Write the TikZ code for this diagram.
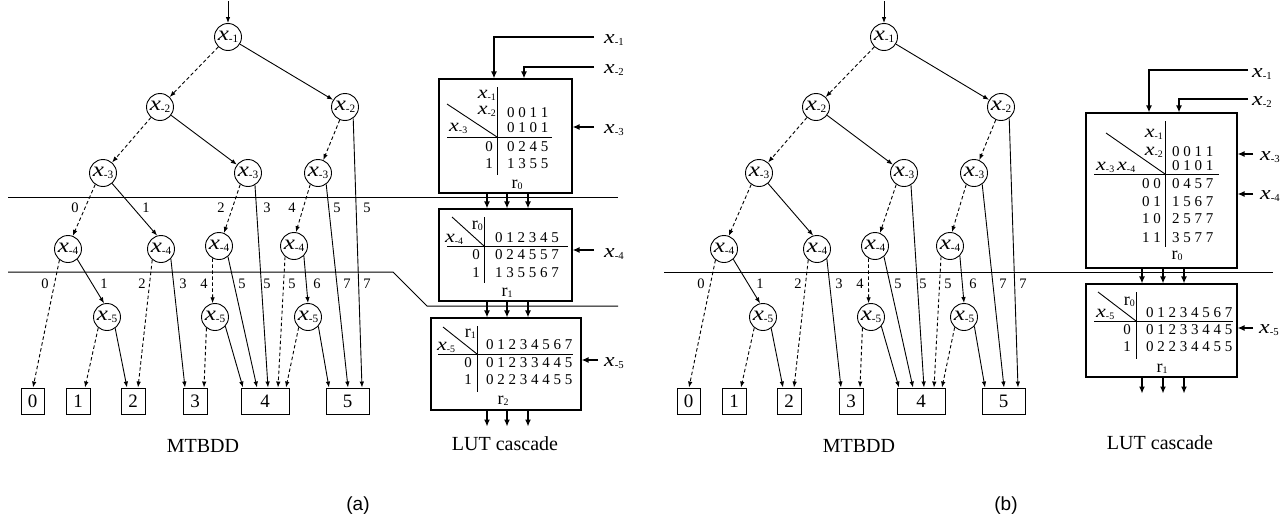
\documentclass[tikz,border=0pt]{standalone}
\usepackage{fontspec}
\setmainfont{Liberation Serif}
\setsansfont{Liberation Sans}
\usepackage{graphicx}
\usetikzlibrary{arrows.meta,calc}
\newcommand\xv[1]{\scalebox{1.22}[1]{\textit{x}}\raisebox{-0.12em}{\scalebox{0.55}{-#1}}}
\newcommand\rv[1]{r\raisebox{-0.08em}{\scalebox{0.55}{#1}}}
\tikzset{
  vnode/.style={circle,draw,line width=0.9pt,minimum size=27pt,inner sep=0pt,font=\fontsize{20.5}{20.5}\selectfont},
  term/.style={rectangle,draw,line width=0.9pt,minimum height=26pt,inner sep=0pt,font=\fontsize{19}{19}\selectfont},
  eone/.style={line width=0.9pt,-{Latex[length=6pt,width=4.5pt]}},
  ezero/.style={eone,dash pattern=on 3.5pt off 2.5pt},
  elab/.style={inner sep=0pt,font=\fontsize{14.5}{14.5}\selectfont},
  lutbox/.style={rectangle,draw,line width=1.1pt,inner sep=0pt},
  tabtxt/.style={inner sep=0pt,font=\fontsize{15}{15}\selectfont},
  tabx/.style={inner sep=0pt,font=\fontsize{18}{18}\selectfont},
  tline/.style={line width=0.9pt},
  inp/.style={line width=1.8pt,-{Latex[length=7pt,width=6pt]}},
  flow/.style={line width=1.4pt,-{Latex[length=7pt,width=6pt]}},
  ilab/.style={inner sep=0pt,font=\fontsize{19.5}{19.5}\selectfont},
  sepline/.style={line width=1.0pt},
  captxt/.style={inner sep=0pt,font=\fontsize{20}{20}\selectfont},
  subcap/.style={inner sep=0pt,font=\sffamily\fontsize{19}{19}\selectfont}
}
\newcommand\mtbdd[1]{%
  \coordinate (#1in) at (228,1);
  \node[vnode] (#1x1) at (228,37) {\xv1};
  \node[vnode] (#1x2a) at (160,107) {\xv2};
  \node[vnode] (#1x2b) at (345,107) {\xv2};
  \node[vnode] (#1x3a) at (103,173) {\xv3};
  \node[vnode] (#1x3b) at (248,173) {\xv3};
  \node[vnode] (#1x3c) at (318,173) {\xv3};
  \node[vnode] (#1x4a) at (68,249) {\xv4};
  \node[vnode] (#1x4b) at (161,249) {\xv4};
  \node[vnode] (#1x4c) at (219,246) {\xv4};
  \node[vnode] (#1x4d) at (294,246) {\xv4};
  \node[vnode] (#1x5a) at (107,317) {\xv5};
  \node[vnode] (#1x5b) at (215,317) {\xv5};
  \node[vnode] (#1x5c) at (308,317) {\xv5};
  \node[term,minimum width=23pt] (#1t0) at (32.5,401) {0};
  \node[term,minimum width=24pt] (#1t1) at (78,401) {1};
  \node[term,minimum width=24pt] (#1t2) at (133,401) {2};
  \node[term,minimum width=24pt] (#1t3) at (195,401) {3};
  \node[term,minimum width=48pt] (#1t4) at (265,401) {4};
  \node[term,minimum width=43pt] (#1t5) at (347.5,401) {5};
  \draw[eone] (#1in) -- (#1x1);
  \draw[ezero] (#1x1) -- (#1x2a);
  \draw[eone] (#1x1) -- (#1x2b);
  \draw[ezero] (#1x2a) -- (#1x3a);
  \draw[eone] (#1x2a) -- (#1x3b);
  \draw[ezero] (#1x2b) -- (#1x3c);
  \draw[eone] (#1x2b.-54) -- ([xshift=14.5pt]#1t5.north);
  \draw[ezero] (#1x3a.-124) -- (#1x4a.70);
  \draw[eone] (#1x3a.-49) -- (#1x4b.106);
  \draw[ezero] (#1x3b.-124) -- (#1x4c.69);
  \draw[eone] (#1x3b.-60) -- ([xshift=3pt]#1t4.north);
  \draw[ezero] (#1x3c.-124) -- (#1x4d.82);
  \draw[eone] (#1x3c.-54) -- ([xshift=0.5pt]#1t5.north);
  \draw[ezero] (#1x4a.-128) -- ([xshift=0.5pt]#1t0.north);
  \draw[eone] (#1x4a.-48) -- (#1x5a.102);
  \draw[ezero] (#1x4b.-129) -- ([xshift=5pt]#1t2.north);
  \draw[eone] (#1x4b.-45) -- ([xshift=-10pt]#1t3.north);
  \draw[ezero] (#1x4c.-118) -- (#1x5b.100);
  \draw[eone] (#1x4c.-50) -- ([xshift=-8pt]#1t4.north);
  \draw[ezero] (#1x4d.-130) -- ([xshift=13pt]#1t4.north);
  \draw[eone] (#1x4d.-45) -- (#1x5c.90);
  \draw[ezero] (#1x5a.-129) -- ([xshift=7pt]#1t1.north);
  \draw[eone] (#1x5a.-54) -- ([xshift=-6pt]#1t2.north);
  \draw[ezero] (#1x5b.-128) -- ([xshift=9pt]#1t3.north);
  \draw[eone] (#1x5b.-42) -- ([xshift=-22pt]#1t4.north);
  \draw[ezero] (#1x5c.-132) -- ([xshift=21pt]#1t4.north);
  \draw[eone] (#1x5c.-42) -- ([xshift=-18.5pt]#1t5.north);
  \node[elab] (#1la) at (45,284) {0};
  \node[elab] (#1lb) at (104,284) {1};
  \node[elab] (#1lc) at (142,284) {2};
  \node[elab] (#1ld) at (183,284) {3};
  \node[elab] (#1le) at (204,284) {4};
  \node[elab] (#1lf) at (242,284) {5};
  \node[elab] (#1lg) at (267,284) {5};
  \node[elab] (#1lh) at (292,284) {5};
  \node[elab] (#1li) at (317,284) {6};
  \node[elab] (#1lj) at (347,284) {7};
  \node[elab] (#1lk) at (367,284) {7};
  \node[captxt] (#1cap) at (203,446) {MTBDD};
}
\begin{document}
\begin{tikzpicture}[x=1pt,y=-1pt]
\path[fill=white] (0,0) rectangle (1287,522);
\useasboundingbox (0,0) rectangle (1287,522);
% separator lines
\draw[sepline] (8,197) -- (618,197);
\draw[sepline] (8,272) -- (393,272) -- (427,306) -- (618,306);
\draw[sepline] (664,272) -- (1273,272);
% MTBDDs
\mtbdd{a}
\begin{scope}[xshift=656pt]
\mtbdd{b}
\end{scope}
% row 1 labels of (a)
\node[elab] (ru1) at (75,208) {0};
\node[elab] (ru2) at (146,208) {1};
\node[elab] (ru3) at (221,208) {2};
\node[elab] (ru4) at (267,208) {3};
\node[elab] (ru5) at (292,208) {4};
\node[elab] (ru6) at (337,208) {5};
\node[elab] (ru7) at (367,208) {5};
% ---------- LUT cascade (a)
\node[lutbox,minimum width=133pt,minimum height=114pt] (ar0) at (505.5,136) {};
\node[lutbox,minimum width=133pt,minimum height=92pt] (ar1) at (505.5,255) {};
\node[lutbox,minimum width=150pt,minimum height=92pt] (ar2) at (506,364) {};
% r0 table
\draw[tline] (497,87) -- (497,175);
\draw[tline] (447,137) -- (552,137);
\draw[tline] (447,104) -- (497,137);
\node[tabx,anchor=base east] (aa1) at (496,98) {\xv1};
\node[tabx,anchor=base east] (aa2) at (496,114.5) {\xv2};
\node[tabx,anchor=base west] (aa3) at (449,131) {\xv3};
\node[tabtxt,anchor=base west] (aa4) at (507,117) {0 0 1 1};
\node[tabtxt,anchor=base west] (aa5) at (507,132) {0 1 0 1};
\node[tabtxt,anchor=base east] (aa6) at (493,151) {0};
\node[tabtxt,anchor=base west] (aa7) at (507,151) {0 2 4 5};
\node[tabtxt,anchor=base east] (aa8) at (493,168) {1};
\node[tabtxt,anchor=base west] (aa9) at (507,168) {1 3 5 5};
\node[tabx,anchor=base] (aa10) at (517,188) {\rv0};
% r1 table
\draw[tline] (484,217) -- (484,283);
\draw[tline] (447,246) -- (568,246);
\draw[tline] (452,217) -- (484,246);
\node[tabx,anchor=base east] (ab1) at (483,229) {\rv0};
\node[tabx,anchor=base west] (ab2) at (445,242) {\xv4};
\node[tabtxt,anchor=base west] (ab3) at (495,242) {0 1 2 3 4 5};
\node[tabtxt,anchor=base east] (ab4) at (480,259) {0};
\node[tabtxt,anchor=base west] (ab5) at (495,259) {0 2 4 5 5 7};
\node[tabtxt,anchor=base east] (ab6) at (480,277) {1};
\node[tabtxt,anchor=base west] (ab7) at (495,277) {1 3 5 5 6 7};
\node[tabx,anchor=base] (ab8) at (507,296) {\rv1};
% r2 table
\draw[tline] (477,326) -- (477,392);
\draw[tline] (438,354) -- (573,354);
\draw[tline] (443,327) -- (477,354);
\node[tabx,anchor=base east] (ac1) at (476,337) {\rv1};
\node[tabx,anchor=base west] (ac2) at (437,350) {\xv5};
\node[tabtxt,anchor=base west] (ac3) at (486,349) {0 1 2 3 4 5 6 7};
\node[tabtxt,anchor=base east] (ac4) at (472,367) {0};
\node[tabtxt,anchor=base west] (ac5) at (486,367) {0 1 2 3 3 4 4 5};
\node[tabtxt,anchor=base east] (ac6) at (472,384) {1};
\node[tabtxt,anchor=base west] (ac7) at (486,384) {0 2 2 3 4 4 5 5};
\node[tabx,anchor=base] (ac8) at (503,404) {\rv2};
% inputs (a)
\coordinate (ai1) at (594,37);
\coordinate (ai2) at (594,67);
\coordinate (ai3) at (594,127);
\coordinate (ai4) at (594,250);
\coordinate (ai5) at (598,360);
\draw[inp] (ai1) -| ([xshift=-11.5pt]ar0.north);
\draw[inp] (ai2) -| ([xshift=18.5pt]ar0.north);
\draw[inp] (ai3) -- (ar0.east |- ai3);
\draw[inp] (ai4) -- (ar1.east |- ai4);
\draw[inp] (ai5) -- (ar2.east |- ai5);
\node[ilab,anchor=base west] (al1) at (604,43) {\xv1};
\node[ilab,anchor=base west] (al2) at (604,73) {\xv2};
\node[ilab,anchor=base west] (al3) at (604,133) {\xv3};
\node[ilab,anchor=base west] (al4) at (604,257) {\xv4};
\node[ilab,anchor=base west] (al5) at (604,366) {\xv5};
% flows (a)
\foreach \d in {-18.5,1.5,22.5}{
  \draw[flow] ([xshift=\d pt]ar0.south) -- ([xshift=\d pt]ar1.north);
  \draw[flow] ([xshift=\d pt]ar1.south) -- ([xshift=\d pt]ar1.south |- ar2.north);
  \draw[flow] ([xshift=\d pt]ar1.south |- ar2.south) -- ([xshift=\d pt,yshift=-16pt]ar1.south |- ar2.south);
}
\node[captxt] (acap) at (505,444) {LUT cascade};
\node[subcap] (asub) at (358,506) {(a)};
% ---------- LUT cascade (b)
\node[lutbox,minimum width=151pt,minimum height=155pt] (br0) at (1161.5,190.5) {};
\node[lutbox,minimum width=151pt,minimum height=93pt] (br1) at (1161.5,330.5) {};
\draw[tline] (1165,121) -- (1165,247);
\draw[tline] (1094,174) -- (1219,174);
\draw[tline] (1106,133) -- (1165,174);
\node[tabx,anchor=base east] (ba1) at (1163,137) {\xv1};
\node[tabx,anchor=base east] (ba2) at (1163,155) {\xv2};
\node[tabx,anchor=base west] (ba3) at (1096,170) {\xv3\,\xv4};
\node[tabtxt,anchor=base west] (ba4) at (1172,156) {0 0 1 1};
\node[tabtxt,anchor=base west] (ba5) at (1172,170) {0 1 0 1};
\node[tabtxt,anchor=base east] (ba6) at (1161,188) {0 0};
\node[tabtxt,anchor=base west] (ba7) at (1172,188) {0 4 5 7};
\node[tabtxt,anchor=base east] (ba8) at (1161,206) {0 1};
\node[tabtxt,anchor=base west] (ba9) at (1172,206) {1 5 6 7};
\node[tabtxt,anchor=base east] (ba10) at (1161,223) {1 0};
\node[tabtxt,anchor=base west] (ba11) at (1172,223) {2 5 7 7};
\node[tabtxt,anchor=base east] (ba12) at (1161,242) {1 1};
\node[tabtxt,anchor=base west] (ba13) at (1172,242) {3 5 7 7};
\node[tabx,anchor=base] (ba14) at (1177,259) {\rv0};
\draw[tline] (1136,292) -- (1136,359);
\draw[tline] (1094,321) -- (1233,321);
\draw[tline] (1098,292) -- (1136,321);
\node[tabx,anchor=base east] (bb1) at (1135,305) {\rv0};
\node[tabx,anchor=base west] (bb2) at (1096,317) {\xv5};
\node[tabtxt,anchor=base west] (bb3) at (1146,317) {0 1 2 3 4 5 6 7};
\node[tabtxt,anchor=base east] (bb4) at (1131,334) {0};
\node[tabtxt,anchor=base west] (bb5) at (1146,334) {0 1 2 3 3 4 4 5};
\node[tabtxt,anchor=base east] (bb6) at (1131,351) {1};
\node[tabtxt,anchor=base west] (bb7) at (1146,351) {0 2 2 3 4 4 5 5};
\node[tabx,anchor=base] (bb8) at (1162,372) {\rv1};
% inputs (b)
\coordinate (bi1) at (1248,70);
\coordinate (bi2) at (1248,99);
\coordinate (bi3) at (1253,154);
\coordinate (bi4) at (1253,194);
\coordinate (bi5) at (1253,328);
\draw[inp] (bi1) -| ([xshift=-12.5pt]br0.north);
\draw[inp] (bi2) -| ([xshift=17.5pt]br0.north);
\draw[inp] (bi3) -- (br0.east |- bi3);
\draw[inp] (bi4) -- (br0.east |- bi4);
\draw[inp] (bi5) -- (br1.east |- bi5);
\node[ilab,anchor=base west] (bl1) at (1252,77) {\xv1};
\node[ilab,anchor=base west] (bl2) at (1252,105) {\xv2};
\node[ilab,anchor=base west] (bl3) at (1260,160) {\xv3};
\node[ilab,anchor=base west] (bl4) at (1260,199) {\xv4};
\node[ilab,anchor=base west] (bl5) at (1259,333) {\xv5};
\foreach \d in {-19.5,1.5,22.5}{
  \draw[flow] ([xshift=\d pt]br0.south) -- ([xshift=\d pt]br1.north);
  \draw[flow] ([xshift=\d pt]br1.south) -- ([xshift=\d pt,yshift=-16pt]br1.south);
}
\node[captxt] (bcap) at (1160,443) {LUT cascade};
\node[subcap] (bsub) at (1006,506) {(b)};
\end{tikzpicture}
\end{document}
